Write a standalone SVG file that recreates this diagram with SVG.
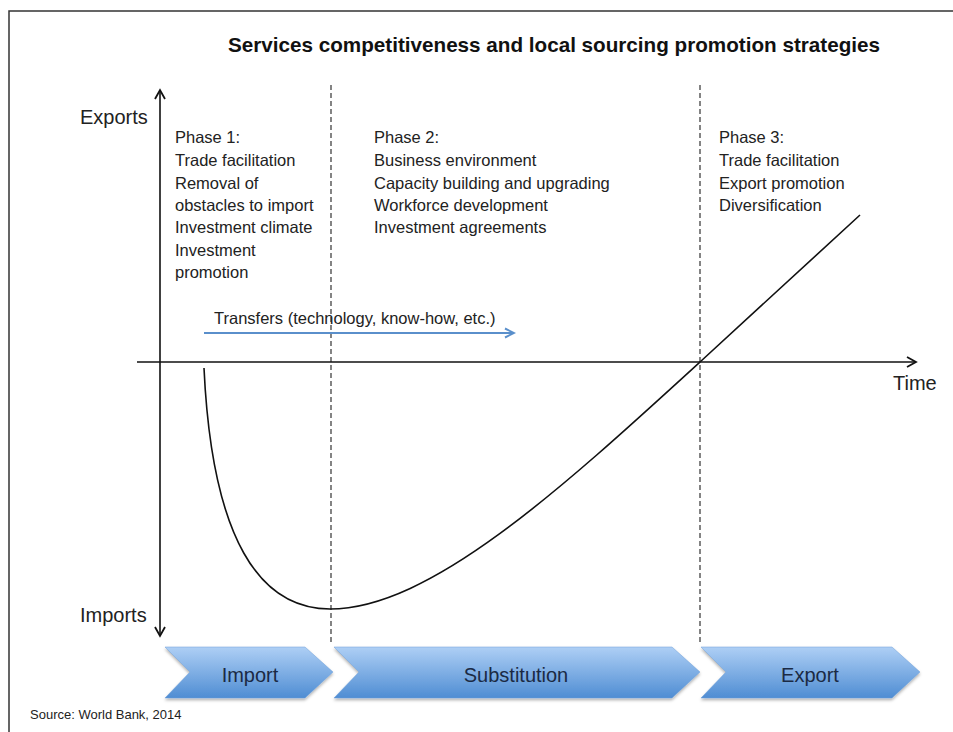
<svg xmlns="http://www.w3.org/2000/svg" width="953" height="732" viewBox="0 0 953 732">
<style>
  text { font-family: "Liberation Sans", Arial, sans-serif; fill: #222; }
  .title { font-weight: bold; font-size: 20.5px; fill: #111; }
  .axis-label { font-size: 20px; }
  .phase { font-size: 16.5px; }
  .transfer { font-size: 16.5px; }
  .chev-label { font-size: 20px; fill: #1b2a44; text-anchor: middle; }
  .source { font-size: 13px; }
  .axis { stroke: #111; stroke-width: 1.6; fill: none; }
  .dash { stroke: #333; stroke-width: 1.2; stroke-dasharray: 5 3; fill: none; }
  .curve { stroke: #111; stroke-width: 1.6; fill: none; }
  .chev { fill: url(#chevGrad); filter: url(#shadow); stroke: #6d9fd8; stroke-width: 0.5; }
</style>
<defs>
  <linearGradient id="chevGrad" x1="0" y1="0" x2="0" y2="1">
    <stop offset="0" stop-color="#aecff5"/>
    <stop offset="1" stop-color="#4f8dd3"/>
  </linearGradient>
  <filter id="shadow" x="-5%" y="-10%" width="110%" height="130%">
    <feDropShadow dx="0" dy="2" stdDeviation="1.5" flood-color="#000" flood-opacity="0.3"/>
  </filter>
  <marker id="blackArrow" markerWidth="12" markerHeight="12" refX="10" refY="6" orient="auto-start-reverse" markerUnits="userSpaceOnUse">
    <path d="M1,1 L10,6 L1,11" fill="none" stroke="#111" stroke-width="1.8"/>
  </marker>
  <marker id="blueArrow" markerWidth="12" markerHeight="12" refX="10" refY="6" orient="auto" markerUnits="userSpaceOnUse">
    <path d="M1,1.5 L10,6 L1,10.5" fill="none" stroke="#5a8fcb" stroke-width="2"/>
  </marker>
</defs>

<rect width="953" height="732" fill="#fff"/>
<!-- frame -->
<path d="M9,732 L9,11 L953,11" fill="none" stroke="#333" stroke-width="1.5"/>

<text class="title" x="228" y="52" textLength="652" lengthAdjust="spacingAndGlyphs">Services competitiveness and local sourcing promotion strategies</text>

<g id="connectors">
  <line class="dash" x1="331" y1="85" x2="331" y2="642"/>
  <line class="dash" x1="700" y1="85" x2="700" y2="642"/>
  <line class="axis" x1="160" y1="90" x2="160" y2="636" marker-start="url(#blackArrow)" marker-end="url(#blackArrow)"/>
  <line class="axis" x1="137" y1="362" x2="916" y2="362" marker-end="url(#blackArrow)"/>
  <line x1="204" y1="333" x2="514" y2="333" stroke="#5a8fcb" stroke-width="2" marker-end="url(#blueArrow)"/>
  <path class="curve" d="M204,368 C212,540 260,609 330,609 C430,609 560,490 700,362 L860,215"/>
</g>

<g id="axis-labels">
  <text class="axis-label" x="80" y="124">Exports</text>
  <text class="axis-label" x="80" y="622">Imports</text>
  <text class="axis-label" x="893" y="390">Time</text>
</g>

<g id="phase1">
  <text class="phase" x="175" y="143">Phase 1:</text>
  <text class="phase" x="175" y="166">Trade facilitation</text>
  <text class="phase" x="175" y="189">Removal of</text>
  <text class="phase" x="175" y="211">obstacles to import</text>
  <text class="phase" x="175" y="233">Investment climate</text>
  <text class="phase" x="175" y="256">Investment</text>
  <text class="phase" x="175" y="278">promotion</text>
</g>

<g id="phase2">
  <text class="phase" x="374" y="143">Phase 2:</text>
  <text class="phase" x="374" y="166">Business environment</text>
  <text class="phase" x="374" y="189">Capacity building and upgrading</text>
  <text class="phase" x="374" y="211">Workforce development</text>
  <text class="phase" x="374" y="233">Investment agreements</text>
</g>

<g id="phase3">
  <text class="phase" x="719" y="143">Phase 3:</text>
  <text class="phase" x="719" y="166">Trade facilitation</text>
  <text class="phase" x="719" y="189">Export promotion</text>
  <text class="phase" x="719" y="211">Diversification</text>
</g>

<g id="transfers">
  <text class="transfer" x="214" y="324">Transfers (technology, know-how, etc.)</text>
</g>

<g id="chevron-import">
  <path class="chev" d="M165,647 L305,647 L333,672 L305,698 L165,698 L190,672 Z"/>
  <text class="chev-label" x="250" y="682">Import</text>
</g>
<g id="chevron-substitution">
  <path class="chev" d="M334,647 L672,647 L700,672 L672,698 L334,698 L359,672 Z"/>
  <text class="chev-label" x="516" y="682">Substitution</text>
</g>
<g id="chevron-export">
  <path class="chev" d="M701,647 L892,647 L920,672 L892,698 L701,698 L726,672 Z"/>
  <text class="chev-label" x="810" y="682">Export</text>
</g>

<text class="source" x="30" y="719">Source: World Bank, 2014</text>
</svg>
